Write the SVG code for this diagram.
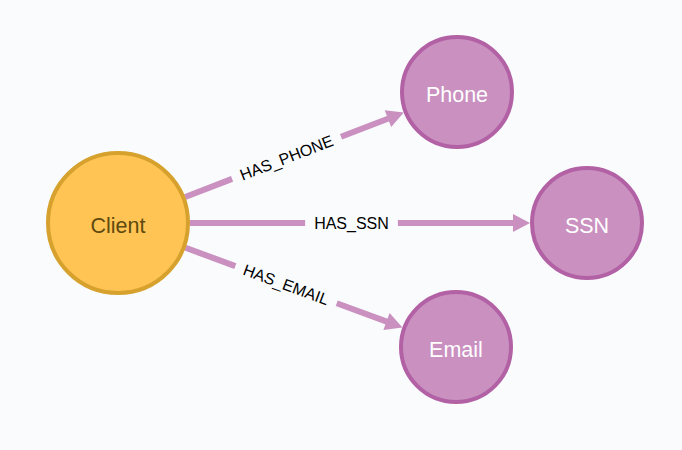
<svg xmlns="http://www.w3.org/2000/svg" width="682" height="450" viewBox="0 0 682 450">
<style>
.bg{fill:#F9FBFD}
.edge{stroke:#C990C0;stroke-width:6;fill:none}
.head{fill:#C990C0}
.elabel{font-family:"Liberation Sans",Arial,Helvetica,sans-serif;font-size:16px;fill:#000;text-anchor:middle;dominant-baseline:central}
.client{fill:#FFC454;stroke:#D7A12E;stroke-width:4}
.purple{fill:#C990C0;stroke:#B261A5;stroke-width:4}
.nlabel{font-family:"Liberation Sans",Arial,Helvetica,sans-serif;font-size:21.5px;text-anchor:middle;dominant-baseline:central}
</style>
<rect class="bg" x="0" y="0" width="682" height="450"/>
<g id="connectors">
  <g id="edge-phone" transform="translate(118 223) rotate(-21.13)">
    <line class="edge" x1="72" y1="0" x2="122.3" y2="0"/>
    <line class="edge" x1="239.1" y1="0" x2="290" y2="0"/>
    <polygon class="head" points="289.4,-9 306.4,0 289.4,9"/>
    <text class="elabel" x="180.7" y="0">HAS_PHONE</text>
  </g>
  <g id="edge-ssn" transform="translate(118 223)">
    <line class="edge" x1="72" y1="0" x2="187.1" y2="0"/>
    <line class="edge" x1="279.9" y1="0" x2="396" y2="0"/>
    <polygon class="head" points="395,-9 412,0 395,9"/>
    <text class="elabel" x="233.5" y="0">HAS_SSN</text>
  </g>
  <g id="edge-email" transform="translate(118 223) rotate(20.15)">
    <line class="edge" x1="72" y1="0" x2="125" y2="0"/>
    <line class="edge" x1="233" y1="0" x2="287" y2="0"/>
    <polygon class="head" points="286,-9 303,0 286,9"/>
    <text class="elabel" x="179" y="0">HAS_EMAIL</text>
  </g>
</g>
<g id="node-client">
  <circle class="client" cx="118" cy="223" r="70"/>
  <text class="nlabel" x="118" y="226" fill="#604A0E">Client</text>
</g>
<g id="node-phone">
  <circle class="purple" cx="457" cy="92" r="55"/>
  <text class="nlabel" x="457" y="95" fill="#FFFFFF">Phone</text>
</g>
<g id="node-ssn">
  <circle class="purple" cx="587" cy="223" r="55"/>
  <text class="nlabel" x="587" y="226" fill="#FFFFFF">SSN</text>
</g>
<g id="node-email">
  <circle class="purple" cx="456" cy="347" r="55"/>
  <text class="nlabel" x="456" y="350" fill="#FFFFFF">Email</text>
</g>
</svg>
